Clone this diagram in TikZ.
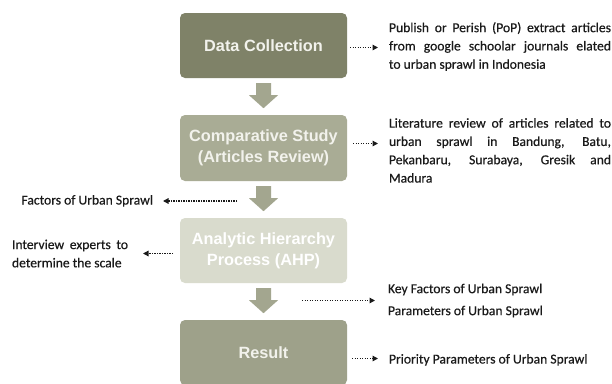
\documentclass[tikz,border=0pt]{standalone}
\usepackage{fontspec}
\setmainfont{Carlito}
\newfontfamily\notefont{Carlito}[FakeBold=0.4]
\newfontfamily\boxfont{Liberation Sans}
\usetikzlibrary{arrows.meta,calc}
\definecolor{boxA}{HTML}{7F8268}
\definecolor{boxB}{HTML}{A9AC95}
\definecolor{boxC}{HTML}{D9DBCD}
\definecolor{boxD}{HTML}{9EA18A}
\definecolor{arrc}{HTML}{A3A68F}
\definecolor{txt}{HTML}{1A1A1A}
\definecolor{boxtxt}{HTML}{F2F2EC}
\hyphenpenalty=10000
\tolerance=10000
\newcommand\flowarrow[1]{%
  \fill[arrc] let \p1=(#1.south) in
    (\x1-7.5pt,\y1-5pt) -- (\x1+7.5pt,\y1-5pt) -- (\x1+7.5pt,\y1-17pt) --
    (\x1+14.5pt,\y1-17pt) -- (\x1,\y1-30pt) -- (\x1-14.5pt,\y1-17pt) --
    (\x1-7.5pt,\y1-17pt) -- cycle;}
\begin{document}
\begin{tikzpicture}[x=1pt,y=-1pt,
  stepbox/.style={rounded corners=5pt, minimum width=167pt, minimum height=65pt,
    inner sep=0pt, align=center, text=boxtxt,
    font=\boxfont\bfseries\fontsize{16.3}{21}\selectfont},
  note/.style={inner sep=0pt, text=txt,
    font=\notefont\fontsize{13.6}{18.3}\selectfont},
  dotarrow/.style={txt, line width=1.3pt, dash pattern=on 1.3pt off 1.2pt,
    -{Triangle[length=5.5pt,width=5.5pt]}}]
\useasboundingbox (0,0) rectangle (612,383);
\clip (0,0) rectangle (612,383);
\fill[white] (0,0) rectangle (612,383);

% flow boxes
\node[stepbox, fill=boxA] (dc)  at (263.5,45.5)  {Data Collection};
\node[stepbox, fill=boxB, minimum height=66pt] (cs) at (263.5,148) {Comparative Study\\(Articles Review)};
\node[stepbox, fill=boxC, text=white] (ahp) at (263.5,250.5) {Analytic Hierarchy\\Process (AHP)};
\node[stepbox, fill=boxD] (res) at (263.5,352.5) {Result};

\flowarrow{dc}
\flowarrow{cs}
\flowarrow{ahp}

% notes
\node[note, anchor=north west, outer xsep=11pt, text width=222pt, align=justify] (r1) at (378,22)
  {Publish or Perish (PoP) extract articles\linebreak from google schoolar journals elated\linebreak to urban sprawl in Indonesia};
\node[note, anchor=north west, outer xsep=11pt, text width=222pt, align=justify] (r2) at (378,118)
  {Literature review of articles related to\linebreak urban sprawl in Bandung, Batu,\linebreak Pekanbaru, Surabaya, Gresik and\linebreak Madura};
\node[note, anchor=base east, outer xsep=10pt] (l1) at (163,204.5) {Factors of Urban Sprawl};
\node[note, anchor=north east, outer xsep=15pt, text width=116pt, align=justify] (l2) at (143,239.5)
  {Interview experts to\linebreak determine the scale};
\node[note, anchor=north west, outer xsep=13pt, align=left,
  font=\notefont\fontsize{13.6}{22}\selectfont] (r3) at (375,283.5)
  {Key Factors of Urban Sprawl\\Parameters of Urban Sprawl};
\node[note, anchor=base west, outer xsep=11pt] (r4) at (378,363.5) {Priority Parameters of Urban Sprawl};

% dotted connectors
\coordinate (t1) at (350,47.5);
\coordinate (t2) at (353,143.5);
\coordinate (t3) at (237,201);
\coordinate (t4) at (173,253.5);
\coordinate (t5) at (302,300.5);
\coordinate (t6) at (352,358.5);
\draw[dotarrow] (t1) -- (t1 -| r1.west);
\draw[dotarrow] (t2) -- (t2 -| r2.west);
\draw[dotarrow] (t3) -- (t3 -| l1.east);
\draw[dotarrow] (t4) -- (t4 -| l2.east);
\draw[dotarrow] (t5) -- (t5 -| r3.west);
\draw[dotarrow] (t6) -- (t6 -| r4.west);
\end{tikzpicture}
\end{document}
